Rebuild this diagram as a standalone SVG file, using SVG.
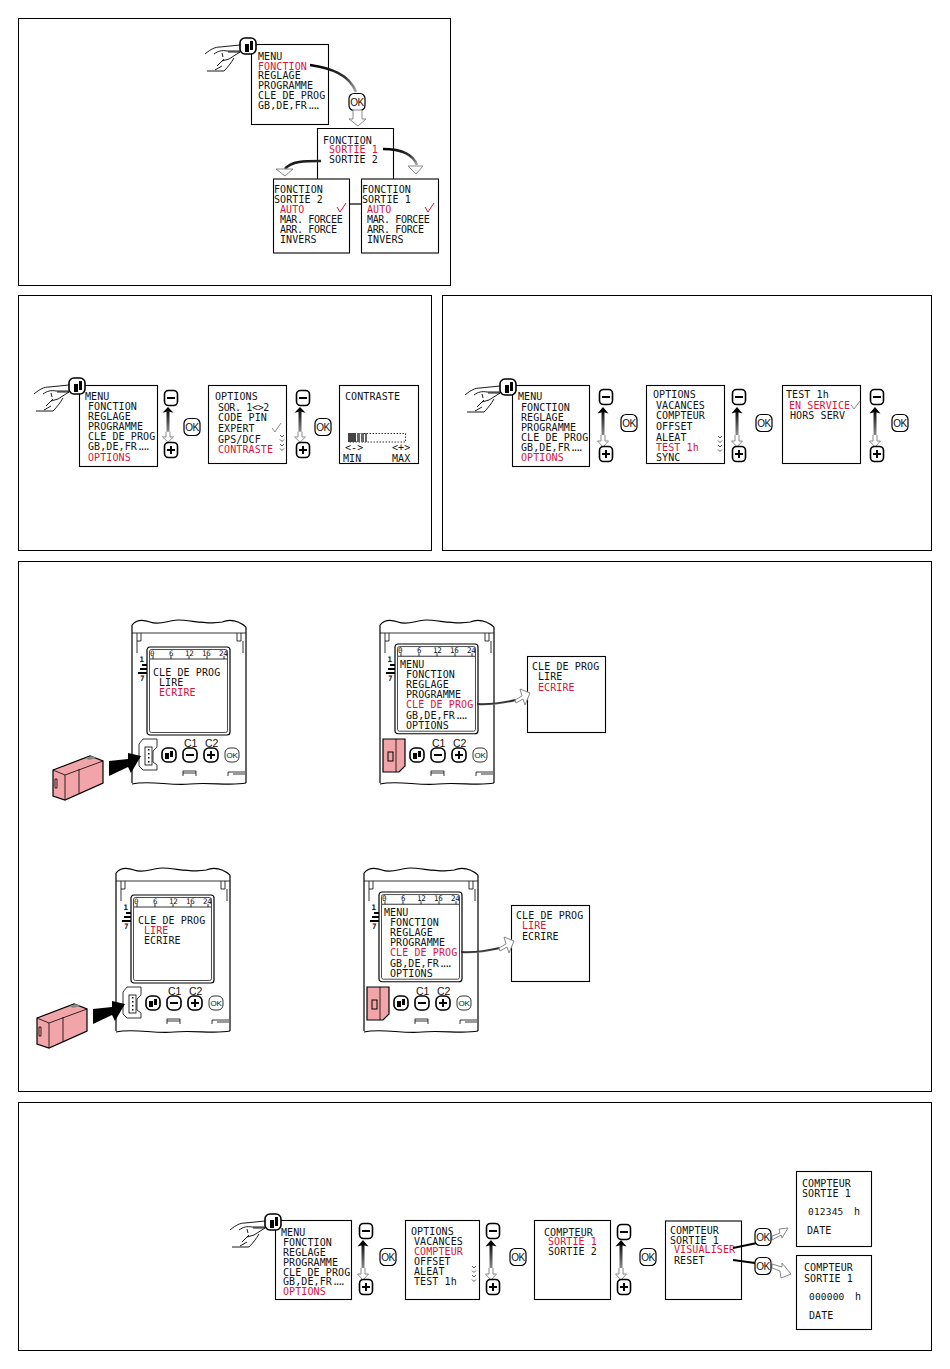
<svg xmlns="http://www.w3.org/2000/svg" width="950" height="1369" viewBox="0 0 950 1369">
<style>
text{font-family:"DejaVu Sans Mono","Liberation Mono",monospace;font-size:10px;letter-spacing:.1px;fill:#111}
text.r{fill:#d8143a}
text.n{letter-spacing:-.35px}
tspan.d{letter-spacing:-3.4px}
text.s{font-size:7.5px;letter-spacing:-.3px}
text.c{font-family:"Liberation Sans",Arial,sans-serif;font-size:10.5px;letter-spacing:0}
text.k{font-family:"Liberation Sans",Arial,sans-serif;font-size:10px;letter-spacing:-.4px;text-anchor:middle}
text.m{font-size:9.5px;letter-spacing:.2px}
.p{fill:#fff;stroke:#000;stroke-width:1}
.b{fill:#fff;stroke:#000;stroke-width:1.1}
.l{fill:none;stroke:#000;stroke-width:1.2}
.hl{fill:none;stroke:#000;stroke-width:.9}
.t{fill:none;stroke:#000;stroke-width:.8}
.bt{fill:#fff;stroke:#000;stroke-width:1.6}
.bo{fill:#fff;stroke:#000;stroke-width:1.2}
.h{fill:#fff;stroke:#888;stroke-width:1}
.g{fill:none;stroke:url(#fade);stroke-width:2.6}
.pk{fill:#f2a5a8;stroke:#000;stroke-width:1.2}
</style>
<defs>
<linearGradient id="fade" x1="0" y1="0" x2="1" y2="1"><stop offset="0" stop-color="#000"/><stop offset=".6" stop-color="#333"/><stop offset="1" stop-color="#aaa"/></linearGradient>
<linearGradient id="ud" x1="0" y1="0" x2="0" y2="1"><stop offset="0" stop-color="#111"/><stop offset="1" stop-color="#aaa"/></linearGradient>
<g id="hand">
<path class="hl" d="M-43 8C-37 3-33 1-28 1L-8-1M-34 8C-30 5-26 4-21 5L-8 5M-26 7L-25 11M-20 6L-8 6L-19 13L-26 15M-24 13L-31 20M-26 20L-33 24M-41 25L-24 25C-20 21-17 17-14 12"/>
<rect class="bt" x="-8" y="-8" width="16" height="16" rx="5"/>
<path d="M-3-2h4v8h-4zM2-5h3v9h-3z" fill="#000"/>
</g>
<g id="ok"><rect class="bo" x="-8" y="-8.500" width="16" height="17" rx="5"/><text class="k" x="0" y="3.500">OK</text></g>
<g id="minus"><rect class="bt" x="-6.500" y="-7.500" width="13" height="15" rx="4"/><rect x="-4" y="-1" width="8" height="2" fill="#000"/></g>
<g id="plus"><rect class="bt" x="-6.500" y="-7.500" width="13" height="15" rx="4"/><path d="M-4-1h3v-3h2v3h3v2h-3v3h-2v-3h-3z" fill="#000"/></g>
<g id="updown">
<rect x="-1.500" y="5" width="3" height="29" fill="url(#ud)"/>
<path d="M0 0L5.500 6.500L0 5L-5.500 6.500Z" fill="#000"/>
<path class="h" d="M-2 28V34H-5.500L0 40L5.500 34H2V28"/>
</g>
<path id="chev" d="M-2 0L0 2L2 0M-2 4.500L0 6.500L2 4.500M-2 9L0 11L2 9M-2 13.500L0 15.500L2 13.500" fill="none" stroke="#333" stroke-width=".8"/>
<g id="bk"><rect class="bt" x="-7" y="-7" width="14" height="14" rx="5"/><path d="M-4-2h4v6h-4zM1-4h3v6h-3z" fill="#000"/></g>
<g id="body">
<path class="l" d="M132 625C136 620 142 619 150 622C160 626 168 620 178 620C190 620 208 625 222 622C232 618 240 622 246 627"/>
<path class="l" d="M132 625V783M246 627V783"/>
<path class="l" d="M132 784C150 780 170 786 190 784C210 782 230 786 246 783"/>
<path class="t" d="M132 633H246M137 633V641H141V633M237 633V641H241V633M137 641V653M243 641V653"/>
<text class="s" x="139.500" y="662" style="font-weight:bold">1</text>
<path d="M142 664h5v2h-5zM140 668h7v2h-7zM138 672h9v2h-9z" fill="#000"/>
<text class="s" x="140" y="681" style="font-weight:bold">7</text>
<use href="#bk" x="169" y="755"/>
<rect class="bt" x="183" y="748" width="14" height="14" rx="5"/><rect x="186" y="754" width="8" height="2" fill="#000"/>
<rect class="bt" x="204" y="748" width="14" height="14" rx="5"/><path d="M210 751h2v3h3v2h-3v3h-2v-3h-3v-2h3z" fill="#000"/>
<rect class="t" x="225" y="748" width="14" height="14" rx="5"/><text class="k" x="232" y="758" style="font-size:8px">OK</text>
<text class="c" x="184" y="747">C1</text><text class="c" x="205" y="747">C2</text>
<path class="t" d="M183 776V771H196V776M183 773H196M228 776V772H245M233 774H245"/>
</g>
<g id="slot">
<path class="t" d="M139 744L143 739H157V747L153 751V762L157 765V770H143L139 766Z"/>
<rect class="t" x="145" y="747" width="7" height="18"/>
<path d="M148 749h1.500v1.500h-1.500zM148 753h1.500v1.500h-1.500zM148 757h1.500v1.500h-1.500zM148 761h1.500v1.500h-1.500z" fill="#000"/>
</g>
<g id="key">
<path class="pk" d="M53 770L90 756L103 761V783L65 800L53 796Z"/>
<path class="t" d="M53 770L65 775L103 761M65 775V800M79 769V793M55 779V788H57V779Z"/>
<path d="M85 758L92 756L96 758L89 760Z" fill="#888"/>
<path d="M109 761L128 759V753L141 756L131 773L128 767L109 776Z" fill="#000"/>
</g>
<g id="inkey">
<path class="pk" d="M383 739H405V766L399 772H383Z"/>
<path class="t" d="M396 739V772"/><rect x="388" y="752" width="5" height="9" fill="none" stroke="#000" stroke-width="1"/>
</g>
<g id="scale">
<rect x="0" y="0" width="83" height="88" rx="3" fill="none" stroke="#000" stroke-width="1.200"/>
<rect x="2.500" y="2.500" width="78" height="83" rx="2" fill="none" stroke="#000" stroke-width=".7"/>
<path class="t" d="M3 12H80M6 12V9M24 12V9M42 12V9M60 12V9M77 12V9"/>
<text class="s" x="3" y="9">0</text><text class="s" x="22" y="9">6</text><text class="s" x="38" y="9">12</text><text class="s" x="55" y="9">16</text><text class="s" x="72" y="9">24</text>
</g>
<g id="cle"><path class="g" style="stroke-width:2" d="M477 704C492 705 503 703 516 700"/><path class="h" d="M515 700L522 696L520 689L530 693L525 705L523 699L516 703Z"/></g>
</defs>

<rect id="panel-1" class="p" x="18.500" y="18.500" width="432" height="267"/>
<rect id="panel-2" class="p" x="18.500" y="295.500" width="413" height="255"/>
<rect id="panel-3" class="p" x="442.500" y="295.500" width="489" height="255"/>
<rect id="panel-4" class="p" x="18.500" y="561.500" width="913" height="530"/>
<rect id="panel-5" class="p" x="18.500" y="1102.500" width="913" height="248"/>

<g id="node-menu-1"><rect class="b" x="251.500" y="44.500" width="77" height="80"/>
<text x="258" y="60">MENU</text><text class="r" x="258" y="70">FONCTION</text><text x="258" y="79">REGLAGE</text><text x="258" y="89">PROGRAMME</text><text x="258" y="99">CLE DE PROG</text><text x="258" y="109">GB,DE,FR<tspan class="d">....</tspan></text></g>
<g id="node-hand-1"><use href="#hand" transform="translate(248 46)"/></g>
<g id="node-ok-1"><use href="#ok" x="357" y="102"/></g>
<g id="node-fonction"><path class="b" d="M317.500 179V128.500H393.500V179"/>
<text x="323" y="144">FONCTION</text><text class="r" x="329" y="153">SORTIE 1</text><text x="329" y="163">SORTIE 2</text></g>
<g id="node-sortie-2"><rect class="b" x="273.500" y="179" width="76" height="74"/>
<text x="274" y="193">FONCTION</text><text x="274" y="203">SORTIE 2</text><text class="r" x="280" y="213">AUTO</text><text class="n" x="280" y="223">MAR. FORCEE</text><text class="n" x="280" y="233">ARR. FORCE</text><text x="280" y="243">INVERS</text>
<path d="M337 207L340 212L346 203" fill="none" stroke="#d8143a"/></g>
<g id="node-sortie-1"><rect class="b" x="361.500" y="179" width="77" height="74"/>
<text x="362" y="193">FONCTION</text><text x="362" y="203">SORTIE 1</text><text class="r" x="367" y="213">AUTO</text><text class="n" x="367" y="223">MAR. FORCEE</text><text class="n" x="367" y="233">ARR. FORCE</text><text x="367" y="243">INVERS</text>
<path d="M425 207L428 212L434 203" fill="none" stroke="#d8143a"/></g>

<g id="node-menu-2"><rect class="b" x="79.500" y="385.500" width="78" height="81"/>
<text x="85" y="400">MENU</text><text x="88" y="410">FONCTION</text><text x="88" y="420">REGLAGE</text><text x="88" y="430">PROGRAMME</text><text x="88" y="440">CLE DE PROG</text><text x="88" y="450">GB,DE,FR<tspan class="d">....</tspan></text><text class="r" x="88" y="461">OPTIONS</text></g>
<g id="node-hand-2"><use href="#hand" transform="translate(77 386)"/></g>
<g id="node-nav-2a"><use href="#minus" x="171" y="398"/><use href="#updown" transform="translate(168 407) scale(1 .88)"/><use href="#plus" x="171" y="450"/><use href="#ok" x="192" y="427"/></g>
<g id="node-options-2"><rect class="b" x="208.500" y="385.500" width="78" height="78"/>
<text x="215" y="400">OPTIONS</text><text class="n" x="218" y="411">SOR. 1&lt;&gt;2</text><text x="218" y="421">CODE PIN</text><text x="218" y="432">EXPERT</text><text x="218" y="443">GPS/DCF</text><text class="r" x="218" y="453">CONTRASTE</text>
<path d="M272 428L275 432L281 423" fill="none" stroke="#888"/><use href="#chev" x="282" y="435"/></g>
<g id="node-nav-2b"><use href="#minus" x="303" y="398"/><use href="#updown" transform="translate(300 407) scale(1 .88)"/><use href="#plus" x="303" y="450"/><use href="#ok" x="323" y="427"/></g>
<g id="node-contraste"><rect class="b" x="339.500" y="385.500" width="79" height="78"/>
<text x="345" y="400">CONTRASTE</text>
<rect x="348.500" y="433.500" width="57" height="8.500" fill="none" stroke="#000" stroke-width=".8" stroke-dasharray="1.500 1.500"/>
<rect x="348" y="433" width="8" height="9" fill="#444"/><path d="M357 433h3v9h-3zM361 433h3v9h-3zM365 433h2v9h-2z" fill="#666"/>
<text x="345" y="451">&lt;-&gt;</text><text x="392" y="451">&lt;+&gt;</text><text x="343" y="462">MIN</text><text x="392" y="462">MAX</text></g>

<g id="node-menu-3"><rect class="b" x="512.500" y="385.500" width="77" height="81"/>
<text x="518" y="400">MENU</text><text x="521" y="411">FONCTION</text><text x="521" y="421">REGLAGE</text><text x="521" y="431">PROGRAMME</text><text x="521" y="441">CLE DE PROG</text><text x="521" y="451">GB,DE,FR<tspan class="d">....</tspan></text><text class="r" x="521" y="461">OPTIONS</text></g>
<g id="node-hand-3"><use href="#hand" transform="translate(508 387)"/></g>
<g id="node-nav-3a"><use href="#minus" x="606" y="397"/><use href="#updown" transform="translate(603 407)"/><use href="#plus" x="606" y="454"/><use href="#ok" x="629" y="423"/></g>
<g id="node-options-3"><rect class="b" x="646.500" y="385.500" width="78" height="78"/>
<text x="653" y="398">OPTIONS</text><text x="656" y="409">VACANCES</text><text x="656" y="419">COMPTEUR</text><text x="656" y="430">OFFSET</text><text x="656" y="441">ALEAT</text><text class="r" x="656" y="451">TEST 1h</text><text x="656" y="461">SYNC</text>
<use href="#chev" x="720" y="436"/></g>
<g id="node-nav-3b"><use href="#minus" x="739" y="397"/><use href="#updown" transform="translate(737 407)"/><use href="#plus" x="739" y="454"/><use href="#ok" x="764" y="423"/></g>
<g id="node-test"><rect class="b" x="782.500" y="385.500" width="78" height="78"/>
<text x="786" y="398">TEST 1h</text><text class="r" x="789" y="409">EN SERVICE</text><text x="790" y="419">HORS SERV</text>
<path d="M851 405L854 409L860 401" fill="none" stroke="#888"/></g>
<g id="node-nav-3c"><use href="#minus" x="877" y="397"/><use href="#updown" transform="translate(875 407)"/><use href="#plus" x="877" y="454"/><use href="#ok" x="900" y="423"/></g>

<g id="node-device-1"><use href="#body"/><use href="#slot"/><use href="#scale" x="147" y="647"/>
<text x="153" y="676">CLE DE PROG</text><text x="159" y="686">LIRE</text><text class="r" x="159" y="696">ECRIRE</text></g>
<g id="node-key-1"><use href="#key"/></g>
<g id="node-device-2"><use href="#body" x="248"/><use href="#inkey"/><use href="#scale" transform="translate(395 644) scale(1 1.02)"/>
<text x="400" y="668">MENU</text><text x="406" y="678">FONCTION</text><text x="406" y="688">REGLAGE</text><text x="406" y="698">PROGRAMME</text><text class="r" x="406" y="708">CLE DE PROG</text><text x="406" y="719">GB,DE,FR<tspan class="d">....</tspan></text><text x="406" y="729">OPTIONS</text></g>
<g id="node-result-1"><rect class="b" x="527.500" y="656.500" width="78" height="76"/>
<text x="532" y="670">CLE DE PROG</text><text x="538" y="680">LIRE</text><text class="r" x="538" y="691">ECRIRE</text></g>

<g id="node-device-3"><use href="#body" x="-16" y="248"/><use href="#slot" x="-16" y="248"/><use href="#scale" x="131" y="895"/>
<text x="138" y="924">CLE DE PROG</text><text class="r" x="144" y="934">LIRE</text><text x="144" y="944">ECRIRE</text></g>
<g id="node-key-2"><use href="#key" x="-16" y="248"/></g>
<g id="node-device-4"><use href="#body" x="232" y="248"/><use href="#inkey" x="-16" y="248"/><use href="#scale" transform="translate(379 892) scale(1 1.02)"/>
<text x="384" y="916">MENU</text><text x="390" y="926">FONCTION</text><text x="390" y="936">REGLAGE</text><text x="390" y="946">PROGRAMME</text><text class="r" x="390" y="956">CLE DE PROG</text><text x="390" y="967">GB,DE,FR<tspan class="d">....</tspan></text><text x="390" y="977">OPTIONS</text></g>
<g id="node-result-2"><rect class="b" x="511.500" y="905.500" width="78" height="76"/>
<text x="516" y="919">CLE DE PROG</text><text class="r" x="522" y="929">LIRE</text><text x="522" y="940">ECRIRE</text></g>

<g id="node-menu-5"><rect class="b" x="275.500" y="1220.500" width="76" height="79"/>
<text x="281" y="1236">MENU</text><text x="283" y="1246">FONCTION</text><text x="283" y="1256">REGLAGE</text><text x="283" y="1266">PROGRAMME</text><text x="283" y="1276">CLE DE PROG</text><text x="283" y="1285">GB,DE,FR<tspan class="d">....</tspan></text><text class="r" x="283" y="1295">OPTIONS</text></g>
<g id="node-hand-5"><use href="#hand" transform="translate(273 1222)"/></g>
<g id="node-nav-5a"><use href="#minus" x="366" y="1231"/><use href="#updown" transform="translate(363 1240)"/><use href="#plus" x="366" y="1287"/><use href="#ok" x="388" y="1257"/></g>
<g id="node-options-5"><rect class="b" x="405.500" y="1220.500" width="74" height="79"/>
<text x="411" y="1235">OPTIONS</text><text x="414" y="1245">VACANCES</text><text class="r" x="414" y="1255">COMPTEUR</text><text x="414" y="1265">OFFSET</text><text x="414" y="1275">ALEAT</text><text x="414" y="1285">TEST 1h</text>
<use href="#chev" x="474" y="1266"/></g>
<g id="node-nav-5b"><use href="#minus" x="493" y="1231"/><use href="#updown" transform="translate(491 1240)"/><use href="#plus" x="493" y="1287"/><use href="#ok" x="518" y="1257"/></g>
<g id="node-compteur"><rect class="b" x="534.500" y="1220.500" width="76" height="79"/>
<text x="544" y="1236">COMPTEUR</text><text class="r" x="548" y="1245">SORTIE 1</text><text x="548" y="1255">SORTIE 2</text></g>
<g id="node-nav-5c"><use href="#minus" x="624" y="1232"/><use href="#updown" transform="translate(621 1240)"/><use href="#plus" x="624" y="1287"/><use href="#ok" x="648" y="1257"/></g>
<g id="node-compteur-1"><rect class="b" x="665.500" y="1221" width="76" height="78.500"/>
<text x="670" y="1234">COMPTEUR</text><text x="670" y="1244">SORTIE 1</text><text class="r" x="674" y="1253">VISUALISER</text><text x="674" y="1264">RESET</text></g>
<g id="node-value"><rect class="b" x="796.500" y="1171.500" width="75" height="75"/>
<text x="802" y="1187">COMPTEUR</text><text x="802" y="1197">SORTIE 1</text><text class="m" x="808" y="1215">012345</text><text x="854" y="1215">h</text><text x="807" y="1234">DATE</text></g>
<g id="node-reset"><rect class="b" x="796.500" y="1255.500" width="75" height="74"/>
<text x="804" y="1271">COMPTEUR</text><text x="804" y="1282">SORTIE 1</text><text class="m" x="809" y="1300">000000</text><text x="855" y="1300">h</text><text x="809" y="1319">DATE</text></g>

<g id="connectors">
<path class="g" d="M310 65C330 68 349 74 356 92"/>
<path class="l" d="M349 204H361"/>
<path class="g" d="M321 161C305 161 291 161 285 169"/>
<path class="g" d="M383 149C398 149 412 152 417 165"/>
<path class="h" d="M353 110H362V119H366L358 126L349 119H353Z"/>
<path class="h" d="M276 169H293L285 176Z"/>
<path class="h" d="M408 166H423L416 174Z"/>
<use href="#cle"/>
<use href="#cle" transform="translate(-16 248)"/>
<path class="l" style="stroke-width:2" d="M733 1248L757 1243M733 1260L755 1263"/>
<path class="h" d="M772 1236L780 1233L779 1229L788 1228L782 1238L781 1235L772 1240Z"/>
<path class="h" d="M772 1264L782 1267L782 1263L791 1274L781 1278L780 1271L772 1268Z"/>
</g>
<g id="node-ok-5a"><use href="#ok" x="763" y="1237"/></g>
<g id="node-ok-5b"><use href="#ok" x="763" y="1266"/></g>
</svg>
